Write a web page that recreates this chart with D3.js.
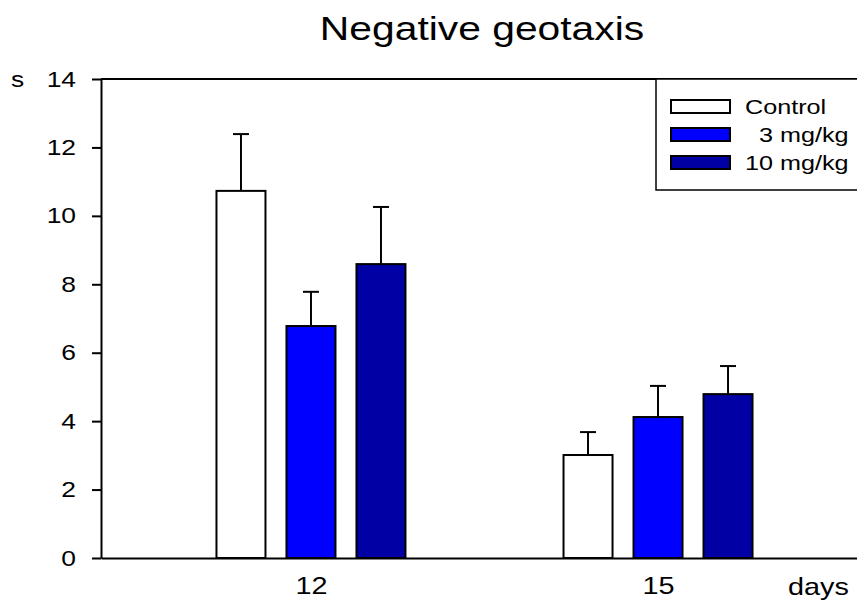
<html>
    <head>
        <meta charset="utf-8">
        <script src="https://d3js.org/d3.v7.min.js"></script>
        <title>Negative geotaxis</title>
    </head>
    <style>
        body { margin: 0; background: #fff; }
        text { font-family: "Liberation Sans", Arial, sans-serif; fill: #000; }
        .axis line, .axis path { stroke: #000; stroke-width: 2; }
    </style>
    <body>
        <svg id="chart"></svg>
        <script>
            // data
            const days = ["12", "15"];
            const groups = ["Control", "3 mg/kg", "10 mg/kg"];
            const legendLabels = ["Control", "  3 mg/kg", "10 mg/kg"];
            const controlMean = [10.73, 3.01];
            const controlErr = [1.66, 0.67];
            const mg3Mean = [6.78, 4.12];
            const mg3Err = [1.0, 0.91];
            const mg10Mean = [8.59, 4.79];
            const mg10Err = [1.67, 0.82];
            const yTicks = [0, 2, 4, 6, 8, 10, 12, 14];
            const colors = ["#ffffff", "#0000ff", "#0000a4"];

            const width = 857;
            const height = 602;
            const sx = 1.2;   // the picture is stretched sideways a bit

            const margins = {top: 79, right: -11, bottom: 44, left: 101};
            const chartWidth = width - margins.left - margins.right;
            const chartHeight = height - margins.top - margins.bottom;

            let svg = d3.select("svg#chart")
                        .attr("width", width)
                        .attr("height", height);

            let chartArea = svg.append("g")
                               .attr("transform", `translate(${margins.left}, ${margins.top})`);

            const yScale = d3.scaleLinear()
                             .domain([0, 14])
                             .range([chartHeight, 0]);

            const xScale = d3.scalePoint()
                             .domain(days)
                             .range([0, chartWidth])
                             .padding(0.605);

            const inner = d3.scaleBand()
                            .domain(groups)
                            .range([-105, 105])
                            .paddingInner(0.3)
                            .paddingOuter(0.15);

            const series = [
                {name: groups[0], mean: controlMean, err: controlErr, color: colors[0]},
                {name: groups[1], mean: mg3Mean, err: mg3Err, color: colors[1]},
                {name: groups[2], mean: mg10Mean, err: mg10Err, color: colors[2]}
            ];

            // bars + error bars
            series.forEach((s) => {
                days.forEach((d, i) => {
                    let x0 = xScale(d) + inner(s.name);
                    let xc = x0 + inner.bandwidth() / 2;
                    chartArea.append("line")
                        .attr("x1", xc).attr("x2", xc)
                        .attr("y1", yScale(s.mean[i]))
                        .attr("y2", yScale(s.mean[i] + s.err[i]))
                        .attr("stroke", "#000").attr("stroke-width", 2);
                    chartArea.append("line")
                        .attr("x1", xc - 8).attr("x2", xc + 8)
                        .attr("y1", yScale(s.mean[i] + s.err[i]))
                        .attr("y2", yScale(s.mean[i] + s.err[i]))
                        .attr("stroke", "#000").attr("stroke-width", 2);
                    chartArea.append("rect")
                        .attr("x", x0)
                        .attr("y", yScale(s.mean[i]))
                        .attr("width", inner.bandwidth())
                        .attr("height", yScale(0) - yScale(s.mean[i]))
                        .attr("fill", s.color)
                        .attr("stroke", "#000")
                        .attr("stroke-width", 2);
                });
            });

            // frame (top + right, right one falls off the page)
            chartArea.append("line")
                .attr("x1", 0).attr("x2", chartWidth)
                .attr("y1", 0).attr("y2", 0)
                .attr("stroke", "#000").attr("stroke-width", 2);
            chartArea.append("line")
                .attr("x1", chartWidth).attr("x2", chartWidth)
                .attr("y1", 0).attr("y2", chartHeight)
                .attr("stroke", "#000").attr("stroke-width", 2);

            // axes
            let leftAxis = d3.axisLeft(yScale)
                             .tickValues(yTicks)
                             .tickSize(9)
                             .tickSizeOuter(0);
            chartArea.append("g")
                     .attr("class", "axis")
                     .call(leftAxis)
                     .selectAll("text")
                     .attr("x", -25 / sx)
                     .attr("transform", `scale(${sx}, 1)`)
                     .style("font-size", "22px");

            let bottomAxis = d3.axisBottom(xScale)
                               .tickSize(0)
                               .tickSizeOuter(0)
                               .tickPadding(19);
            chartArea.append("g")
                     .attr("class", "axis")
                     .attr("transform", `translate(0, ${chartHeight})`)
                     .call(bottomAxis)
                     .selectAll("text")
                     .attr("transform", `scale(${sx}, 1)`)
                     .style("font-size", "24px");

            // axis units
            svg.append("text")
               .attr("transform", `translate(11, 87) scale(${sx}, 1)`)
               .style("font-size", "22px")
               .text("s");
            svg.append("text")
               .attr("transform", `translate(788, 595) scale(${sx}, 1)`)
               .style("font-size", "24px")
               .text("days");

            // title
            svg.append("text")
               .attr("transform", `translate(482, 40) scale(${sx}, 1)`)
               .attr("text-anchor", "middle")
               .style("font-size", "34px")
               .text("Negative geotaxis");

            // legend
            let legend = svg.append("g");
            legend.append("rect")
                  .attr("x", 656).attr("y", margins.top)
                  .attr("width", 220).attr("height", 111)
                  .attr("fill", "#fff")
                  .attr("stroke", "#000")
                  .attr("stroke-width", 1.5);
            series.forEach((s, i) => {
                legend.append("rect")
                      .attr("x", 671).attr("y", 100 + i * 28)
                      .attr("width", 59).attr("height", 13)
                      .attr("fill", s.color)
                      .attr("stroke", "#000")
                      .attr("stroke-width", 2);
                legend.append("text")
                      .attr("transform", `translate(745, ${114 + i * 28}) scale(${sx}, 1)`)
                      .style("font-size", "21px")
                      .style("white-space", "pre")
                      .text(legendLabels[i]);
            });
        </script>
    </body>
</html>
